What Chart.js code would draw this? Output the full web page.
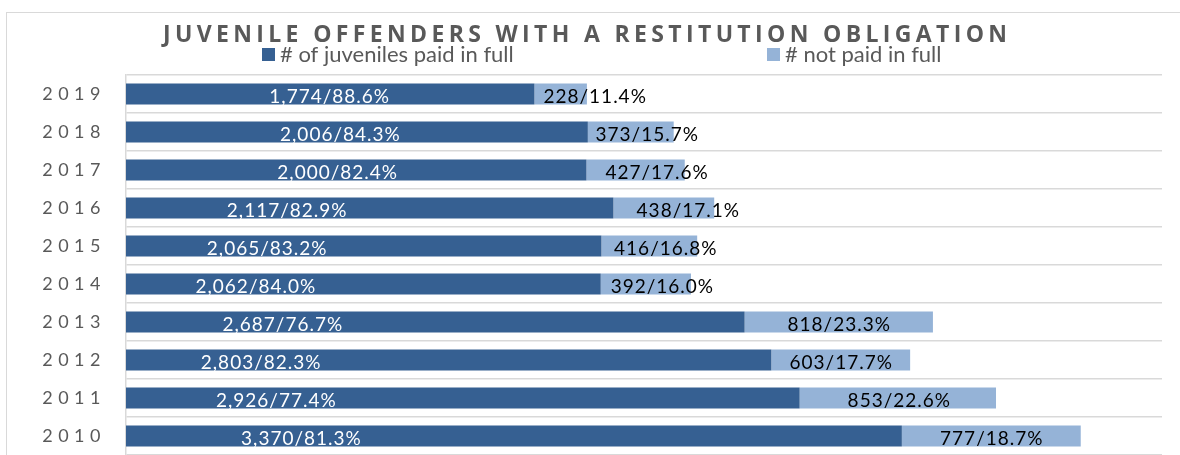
<!DOCTYPE html>
<html>
<head>
<meta charset="utf-8">
<script src="https://cdn.jsdelivr.net/npm/chart.js@4.4.0/dist/chart.umd.min.js"></script>
<style>
  html, body { margin: 0; padding: 0; background: #fff; overflow: hidden; }
  body { width: 1180px; height: 455px; position: relative; }
  #frame { position: absolute; left: 6px; top: 12px; width: 1200px; height: 500px; border: 1px solid #d9d9d9; }
  #wrap { position: absolute; left: 6px; top: 0; width: 1158px; height: 455px; }
</style>
</head>
<body>
<div id="frame"></div>
<div id="wrap"><canvas id="restitutionChart"></canvas></div>
<script>
// Data (top row first)
const years = ['2019', '2018', '2017', '2016', '2015', '2014', '2013', '2012', '2011', '2010'];
const paidInFull = [1774, 2006, 2000, 2117, 2065, 2062, 2687, 2803, 2926, 3370];
const notPaidInFull = [228, 373, 427, 438, 416, 392, 818, 603, 853, 777];
const seriesNames = ['# of juveniles paid in full', '# not paid in full'];
const chartTitle = 'JUVENILE OFFENDERS WITH A RESTITUTION OBLIGATION';

const darkBlue = '#366092';
const lightBlue = '#95b3d7';
const grayText = '#595959';

// "1,774/88.6%" style label text
function labelText(values, i) {
    const total = paidInFull[i] + notPaidInFull[i];
    return values[i].toLocaleString('en-US') + '/' + (values[i] / total * 100).toFixed(1) + '%';
}

// draw text with letter spacing, x is the left edge or the centre
function spacedText(ctx, text, x, y, spacing, centre) {
    ctx.letterSpacing = '0px';
    const w = ctx.measureText(text).width + spacing * (text.length - 1);
    ctx.letterSpacing = spacing + 'px';
    ctx.textAlign = 'left';
    ctx.fillText(text, centre ? x - w / 2 : x, y);
}

// Title, legend and the bar labels are drawn here
const excelLook = {
    id: 'excelLook',
    beforeDraw(chart, args, opts) {
        // year labels on the axis are letter spaced
        chart.ctx.letterSpacing = opts.tickSpacing + 'px';
    },
    afterDatasetsDraw(chart, args, opts) {
        const ctx = chart.ctx;
        ctx.save();
        ctx.font = '19px Lato';
        ctx.textBaseline = 'alphabetic';
        chart.data.datasets.forEach((ds, d) => {
            const meta = chart.getDatasetMeta(d);
            const nudge = opts.nudges[d];
            meta.data.forEach((bar, i) => {
                const p = bar.getProps(['x', 'y', 'base'], true);
                const cx = (p.x + p.base) / 2 + nudge[i];
                ctx.fillStyle = opts.labelColors[d];
                spacedText(ctx, labelText(ds.data, i), cx, p.y + 8.8, 1, true);
            });
        });
        ctx.restore();
    },
    afterDraw(chart, args, opts) {
        const ctx = chart.ctx;
        ctx.save();
        ctx.textBaseline = 'alphabetic';
        // title
        ctx.fillStyle = grayText;
        ctx.font = 'bold 23px "Open Sans"';
        spacedText(ctx, chartTitle, chart.width / 2, 41.5, 4.35, true);
        // legend
        ctx.font = '22px Lato';
        chart.data.datasets.forEach((ds, d) => {
            const lx = opts.legendX[d];
            ctx.fillStyle = ds.backgroundColor;
            ctx.fillRect(lx, 48, 13, 13);
            ctx.fillStyle = grayText;
            spacedText(ctx, ds.label, lx + 18, 61.5, 0, false);
        });
        ctx.restore();
    }
};

const canvasElement = document.getElementById('restitutionChart');
const ctx = canvasElement.getContext('2d');

const restitutionChart = new Chart(ctx, {
    type: 'bar',
    data: {
        labels: years,
        datasets: [
            {
                label: seriesNames[0],
                data: paidInFull,
                backgroundColor: darkBlue,
                barPercentage: 0.55,
                categoryPercentage: 1
            },
            {
                label: seriesNames[1],
                data: notPaidInFull,
                backgroundColor: lightBlue,
                barPercentage: 0.55,
                categoryPercentage: 1
            }
        ]
    },
    options: {
        indexAxis: 'y',
        responsive: true,
        maintainAspectRatio: false,
        animation: false,
        layout: {
            padding: { top: 75, right: 2, bottom: 0, left: 0 }
        },
        scales: {
            x: {
                stacked: true,
                display: false,
                min: 0,
                max: 4500
            },
            y: {
                stacked: true,
                afterFit: scale => {
                    scale.width = 120;
                    // no extra room above/below for the tick labels
                    scale.paddingTop = 0;
                    scale.paddingBottom = 0;
                },
                grid: {
                    color: '#d9d9d9',
                    lineWidth: 1.5,
                    drawTicks: false
                },
                border: { color: '#d9d9d9', width: 1.5 },
                ticks: {
                    color: grayText,
                    padding: 20,
                    font: { family: 'Lato', size: 18 }
                }
            }
        },
        plugins: {
            legend: { display: false },
            title: { display: false },
            tooltip: { enabled: false },
            excelLook: {
                tickSpacing: 5.5,
                labelColors: ['#ffffff', '#000000'],
                legendX: [256, 761],
                nudges: [
                    [-1, -17, -19, -83, -97, -108, -153, -188, -187, -213],
                    [34, 16, 21, 24, 16, 16, 0, 0, 1, 0]
                ]
            }
        }
    },
    plugins: [excelLook]
});
</script>
</body>
</html>
